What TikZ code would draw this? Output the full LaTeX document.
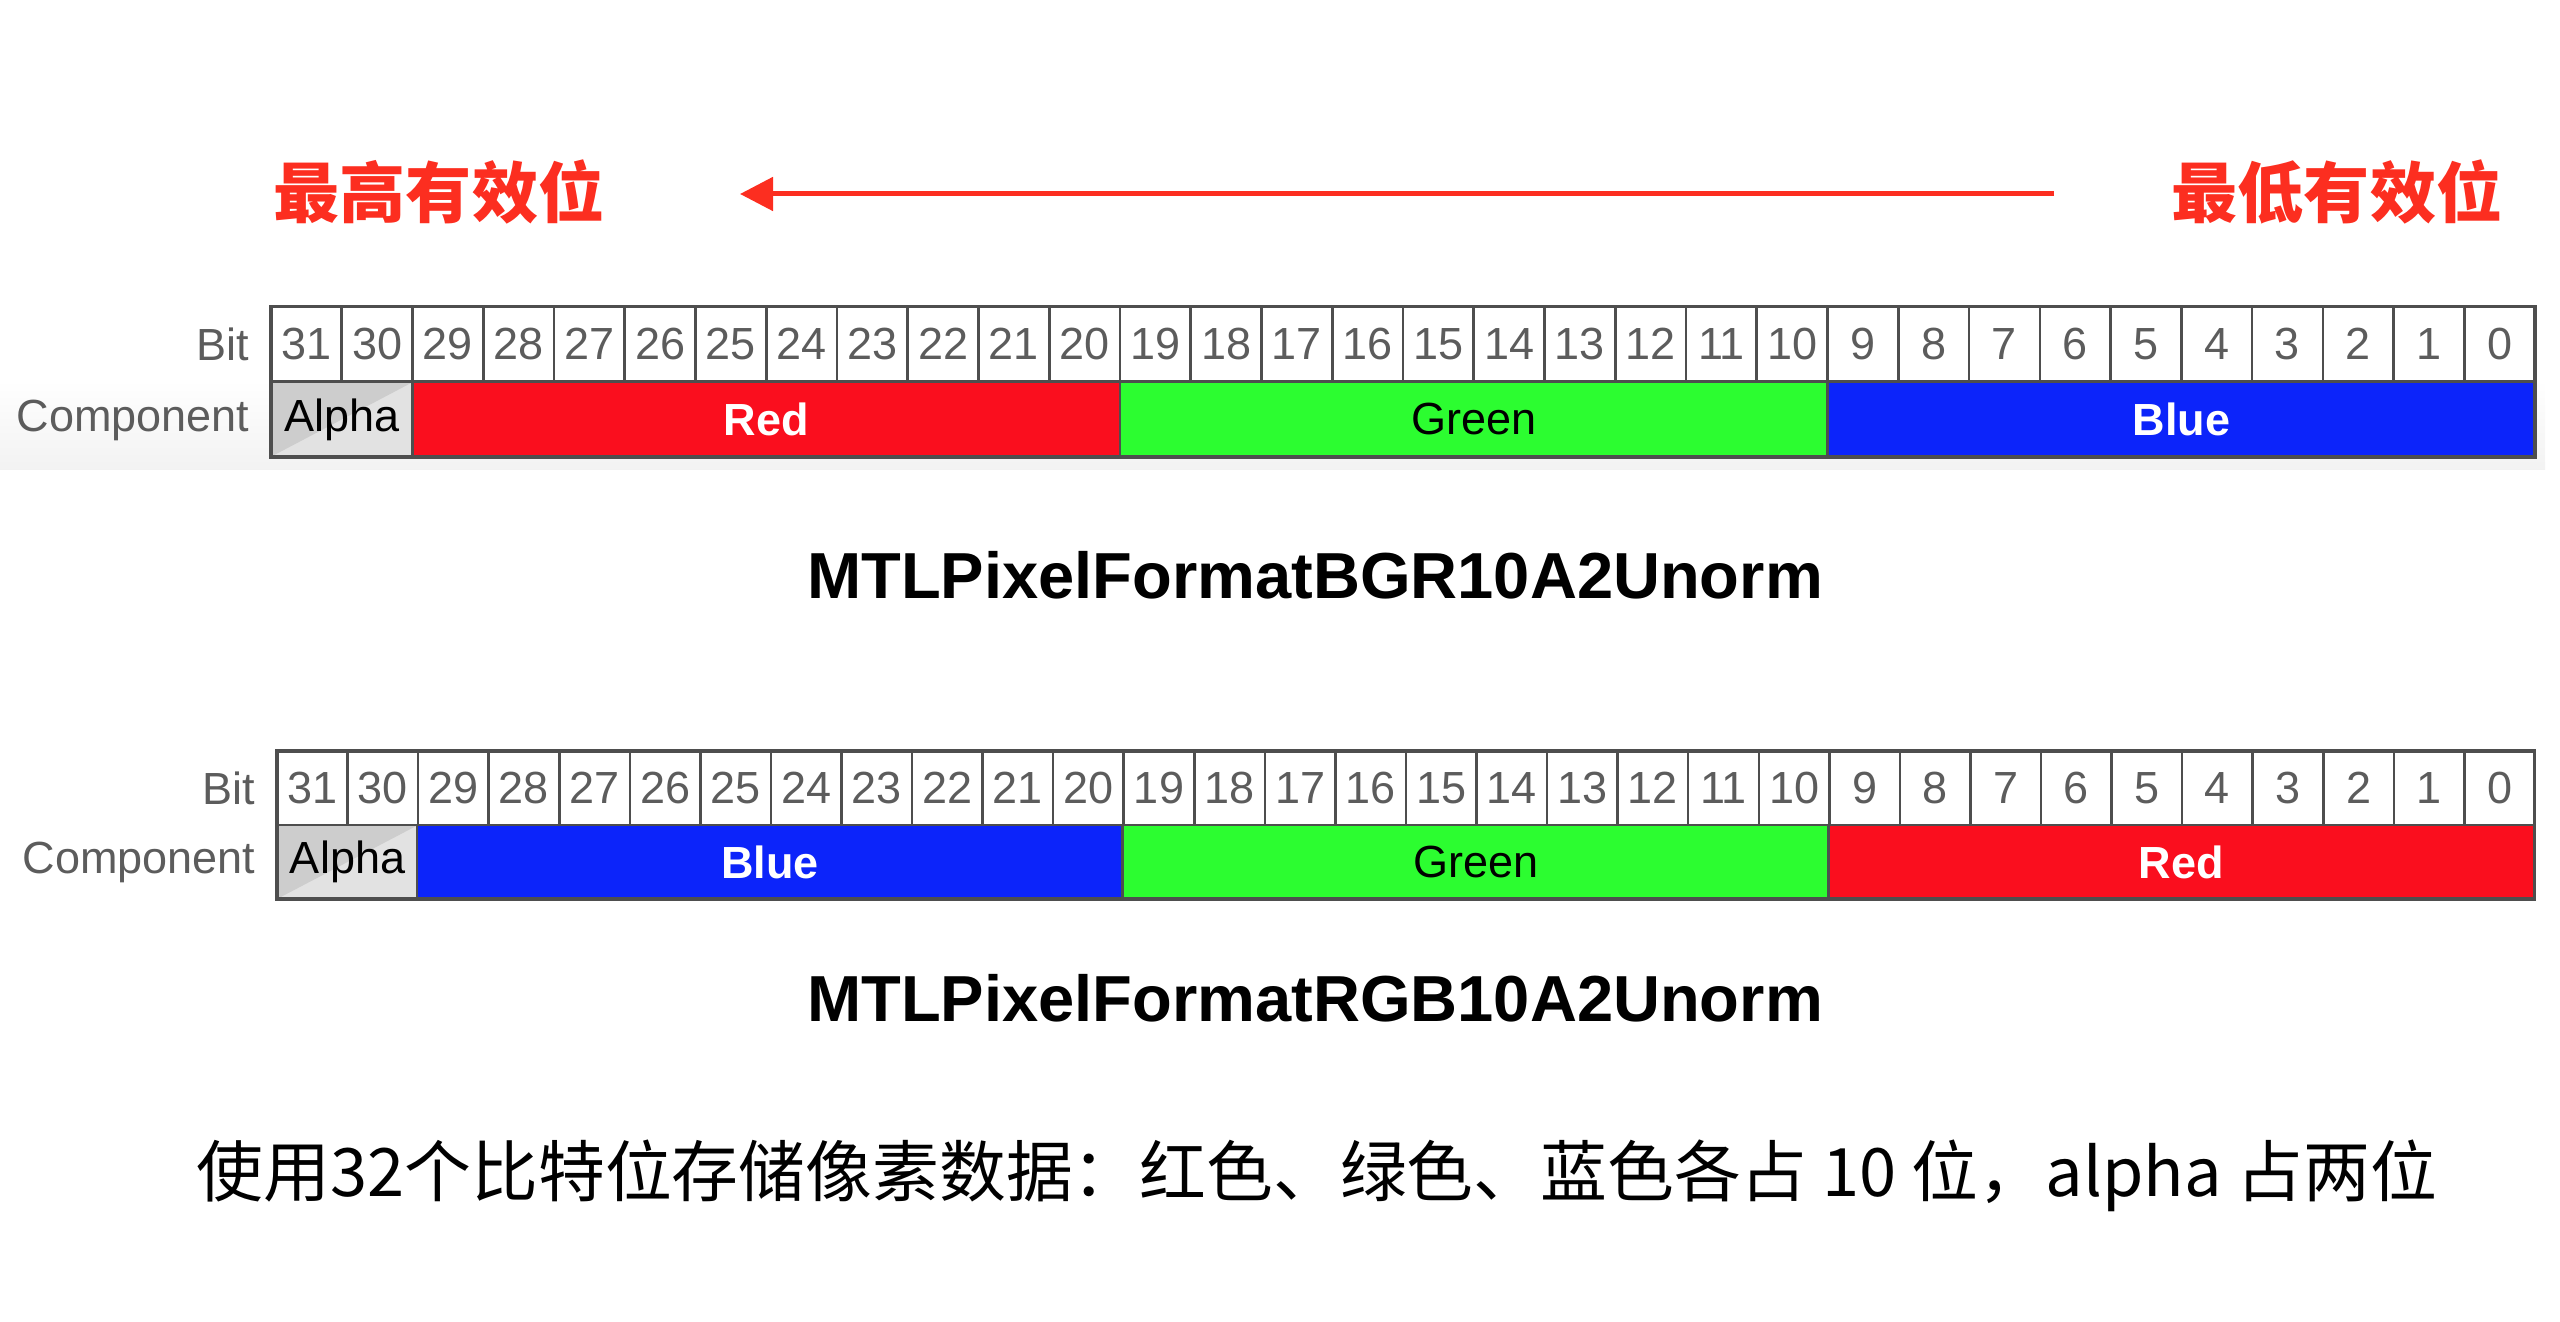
\documentclass[tikz,border=0pt]{standalone}
\usepackage{fontspec}
\setmainfont{Liberation Sans}
\newfontfamily\cjk{Noto Sans CJK SC}
\usetikzlibrary{arrows.meta}
\definecolor{bitred}{RGB}{250,14,30}
\definecolor{bitgreen}{RGB}{44,253,48}
\definecolor{bitblue}{RGB}{12,36,250}
\definecolor{arrowred}{RGB}{252,46,32}
\definecolor{gridline}{RGB}{78,78,78}
\definecolor{labelgray}{RGB}{92,92,92}
\definecolor{alphalight}{RGB}{226,226,226}
\definecolor{alphadark}{RGB}{205,205,205}

\tikzset{
    bitcell/.style={draw=gridline, line width=0.25mm, minimum height=7.5mm,
        inner sep=0pt, outer sep=0pt, text=labelgray,
        font=\fontsize{12.8}{14}\selectfont},
    compcell/.style={draw=gridline, line width=0.25mm, minimum height=7.45mm,
        inner sep=0pt, outer sep=0pt, font=\fontsize{12.8}{14}\selectfont},
    alphacell/.style={compcell, fill=alphalight,
        path picture={\fill[alphadark] (path picture bounding box.south west)
            -- (path picture bounding box.north west)
            -- (path picture bounding box.north east) -- cycle;}},
    rowlabel/.style={anchor=east, inner sep=0pt, text=labelgray,
        font=\fontsize{12.8}{14}\selectfont},
    fmttitle/.style={font=\fontsize{18.5}{22}\selectfont\bfseries},
    sigbit/.style={text=arrowred, font=\cjk\bfseries\fontsize{18.8}{22}\selectfont},
}

\begin{document}
\begin{tikzpicture}[x=0.01cm, y=-0.01cm]
    \useasboundingbox (0,0) rectangle (2560,1322);
    \shade[top color=white, bottom color=black!5] (0,380) rectangle (2545,470);

    % Bit order
    \node[sigbit] (msb) at (439,192) {最高有效位};
    \node[sigbit] (lsb) at (2337,192) {最低有效位};
    \coordinate (arrowtail) at (2054,194);
    \coordinate (arrowtip) at (740,194);
    \draw[arrowred, line width=0.5mm, -{Triangle[length=3.3mm, width=3.3mm]}]
        (arrowtail) -- (arrowtip);

    % BGR10A2 layout
    \node[rowlabel] (bitA) at (250,344) {Bit};
    \node[rowlabel] (compA) at (250,420) {Component};
    \foreach \k in {0,...,31} {
        \pgfmathtruncatemacro{\b}{31-\k}
        \node[bitcell, minimum width=7.075mm] (a\b) at ({271+70.75*(\k+0.5)},344) {\b};
    }
    \node[alphacell, minimum width=14.15mm] (aA) at (341.75,419.5) {Alpha};
    \node[compcell, fill=bitred, text=white, font=\fontsize{12.8}{14}\selectfont\bfseries,
        minimum width=70.75mm] (aR) at (766.25,419.5) {Red};
    \node[compcell, fill=bitgreen, minimum width=70.75mm] (aG) at (1473.75,419.5) {Green};
    \node[compcell, fill=bitblue, text=white, font=\fontsize{12.8}{14}\selectfont\bfseries,
        minimum width=70.75mm] (aB) at (2181.25,419.5) {Blue};
    \draw[gridline, line width=0.35mm] (a31.north west) rectangle (aB.south east);
    \node[fmttitle] (fmtA) at (1315,575) {MTLPixelFormatBGR10A2Unorm};

    % RGB10A2 layout
    \node[rowlabel] (bitB) at (256,788) {Bit};
    \node[rowlabel] (compB) at (256,862) {Component};
    \foreach \k in {0,...,31} {
        \pgfmathtruncatemacro{\b}{31-\k}
        \node[bitcell, minimum width=7.056mm, minimum height=7.4mm] (b\b) at ({277+70.56*(\k+0.5)},788) {\b};
    }
    \node[alphacell, minimum width=14.11mm, minimum height=7.4mm] (bA) at (347.56,862) {Alpha};
    \node[compcell, fill=bitblue, text=white, font=\fontsize{12.8}{14}\selectfont\bfseries,
        minimum width=70.56mm, minimum height=7.4mm] (bB) at (770.1,862) {Blue};
    \node[compcell, fill=bitgreen, minimum width=70.56mm, minimum height=7.4mm] (bG) at (1475.7,862) {Green};
    \node[compcell, fill=bitred, text=white, font=\fontsize{12.8}{14}\selectfont\bfseries,
        minimum width=70.56mm, minimum height=7.4mm] (bR) at (2181.3,862) {Red};
    \draw[gridline, line width=0.35mm] (b31.north west) rectangle (bR.south east);
    \node[fmttitle] (fmtB) at (1315,998) {MTLPixelFormatRGB10A2Unorm};

    % Note
    \node[font=\cjk\fontsize{19}{22}\selectfont] (note) at (1317,1176)
        {使用32个比特位存储像素数据：红色、绿色、蓝色各占 10 位，alpha 占两位};
\end{tikzpicture}
\end{document}
